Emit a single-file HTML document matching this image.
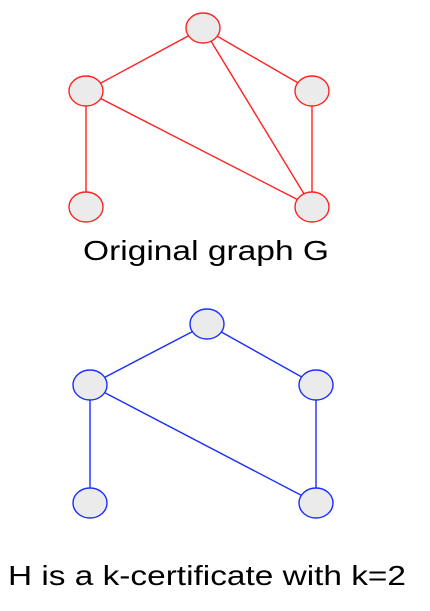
<!DOCTYPE html>
<html><head><style>
html,body{margin:0;padding:0;background:#fff;}
svg{display:block;}
text{font-family:"Liberation Sans",Arial,sans-serif;font-size:28px;fill:#000;}
</style></head><body>
<svg width="430" height="611" viewBox="0 0 430 611" xmlns="http://www.w3.org/2000/svg">
<g stroke="#f22" stroke-width="1.4" fill="none">
<line x1="203" y1="28" x2="86" y2="91"/>
<line x1="203" y1="28" x2="312" y2="91"/>
<line x1="203" y1="28" x2="312" y2="207"/>
<line x1="86" y1="91" x2="86" y2="207"/>
<line x1="86" y1="91" x2="312" y2="207"/>
<line x1="312" y1="91" x2="312" y2="207"/>
</g>
<g stroke="#f22" stroke-width="1.4" fill="#ebebeb">
<ellipse cx="203" cy="28" rx="17" ry="15"/>
<ellipse cx="86" cy="91" rx="17" ry="15"/>
<ellipse cx="312" cy="91" rx="17" ry="15"/>
<ellipse cx="86" cy="207" rx="17" ry="15"/>
<ellipse cx="312" cy="207" rx="17" ry="15"/>
</g>
<text x="206" y="260" text-anchor="middle" textLength="246" lengthAdjust="spacingAndGlyphs">Original graph G</text>
<g stroke="#1a2eff" stroke-width="1.4" fill="none">
<line x1="207" y1="324" x2="90" y2="385"/>
<line x1="207" y1="324" x2="316" y2="385"/>
<line x1="90" y1="385" x2="90" y2="503"/>
<line x1="90" y1="385" x2="316" y2="503"/>
<line x1="316" y1="385" x2="316" y2="503"/>
</g>
<g stroke="#1a2eff" stroke-width="1.4" fill="#ebebeb">
<ellipse cx="207" cy="324" rx="17" ry="15"/>
<ellipse cx="90" cy="385" rx="17" ry="15"/>
<ellipse cx="316" cy="385" rx="17" ry="15"/>
<ellipse cx="90" cy="503" rx="17" ry="15"/>
<ellipse cx="316" cy="503" rx="17" ry="15"/>
</g>
<text x="207" y="585" text-anchor="middle" textLength="398" lengthAdjust="spacingAndGlyphs">H is a k-certificate with k=2</text>
</svg>
</body></html>
